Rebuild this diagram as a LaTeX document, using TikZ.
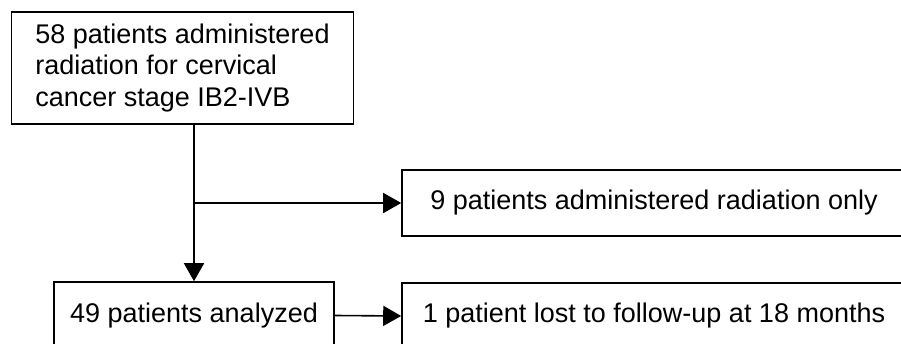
\documentclass[tikz,border=0pt]{standalone}
\usepackage{fontspec}
\setmainfont{Liberation Sans}
\usetikzlibrary{arrows.meta}
\begin{document}
\begin{tikzpicture}[x=1pt,y=1pt,line width=1.6pt,>={Triangle[length=18pt,width=20pt]}]
				\tikzstyle{box}=[draw,rectangle,inner ysep=0pt,font=\fontsize{27}{31.5}\selectfont]
				\tikzstyle{start box}=[box,align=left,inner xsep=24pt,minimum height=112pt]
				\tikzstyle{side box}=[box,minimum width=504pt,minimum height=66pt]
				\tikzstyle{main box}=[box,minimum width=280pt,minimum height=67pt]

				\useasboundingbox (0,0) rectangle (901,-344);
				\clip (0,0) rectangle (901,-344);

				% Draw the boxes
				\node[start box] (start) at (182.5,-68) {58 patients administered\\radiation for cervical\\cancer stage IB2-IVB};
				\node[side box] (only) at (654,-203) {9 patients administered radiation only};
				\node[main box] (analyzed) at (194,-315.5) {49 patients analyzed};
				\node[side box] (lost) at (654,-316) {1 patient lost to follow-up at 18 months};

				% Connect the boxes
				\coordinate (split) at (analyzed.north |- only.west);
				\draw[->] (start.south -| analyzed.north) -- (analyzed.north);
				\draw[->] (split) -- (only.west);
				\draw[->] (analyzed.east) -- (lost.west);

			\end{tikzpicture}
\end{document}
